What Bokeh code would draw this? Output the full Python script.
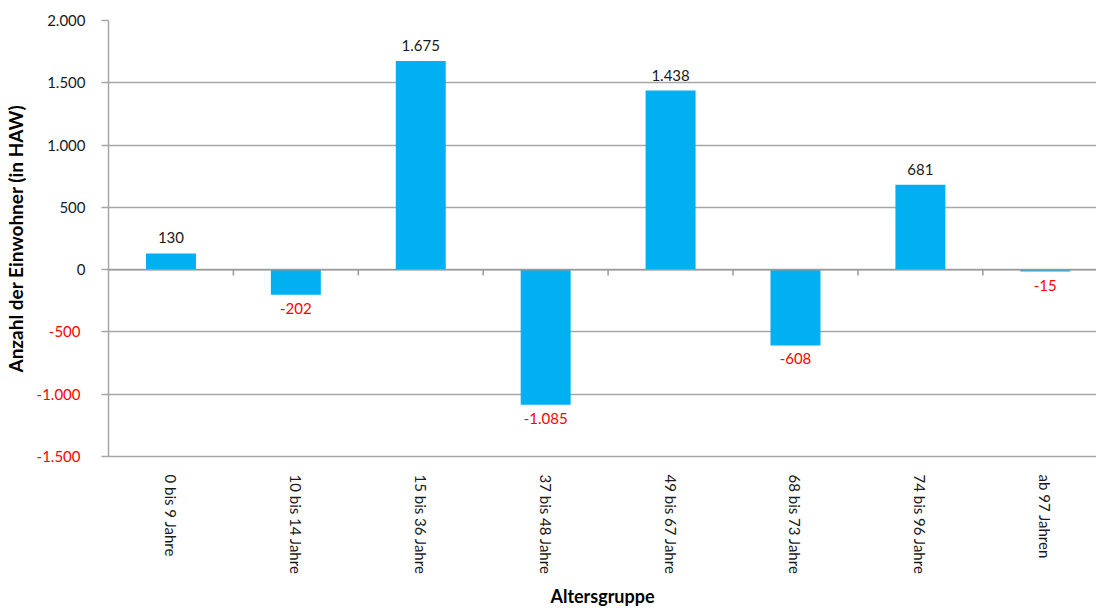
import math
from bokeh.plotting import figure
from bokeh.models import (ColumnDataSource, FixedTicker, LabelSet, Span, Range1d, LinearAxis)
from bokeh.core.properties import value
from bokeh.embed import file_html
from bokeh.resources import INLINE

categories = ["0 bis 9 Jahre", "10 bis 14 Jahre", "15 bis 36 Jahre", "37 bis 48 Jahre",
              "49 bis 67 Jahre", "68 bis 73 Jahre", "74 bis 96 Jahre", "ab 97 Jahren"]
values = [130, -202, 1675, -1085, 1438, -608, 681, -15]
y_ticks = [-1500, -1000, -500, 0, 500, 1000, 1500, 2000]

def fmt(v):
    s = f"{abs(v):,}".replace(",", ".")
    return ("-" if v < 0 else "") + s

FONT = "Lato"
GRID = "#A6A6A6"
BAR = "#00B0F0"

n = len(categories)
xs = [i + 0.5 for i in range(n)]

p = figure(width=1096, height=610, output_backend="svg", toolbar_location=None,
           x_range=Range1d(0, n - 0.09), y_range=Range1d(-1500, 2000),
           min_border_left=107, min_border_top=20, min_border_bottom=152, min_border_right=0)
p.outline_line_color = None
p.background_fill_color = "white"
p.border_fill_color = "white"

# bars
src = ColumnDataSource(dict(x=xs, top=values, label=[fmt(v) for v in values]))
p.vbar(x="x", top="top", bottom=0, width=0.4, source=src, fill_color=BAR, line_color=None)

# zero line and category boundary ticks
p.add_layout(Span(location=0, dimension="width", line_color="#999999", line_width=1.5, level="overlay"))
bx = list(range(1, n))
p.segment(x0=bx, x1=bx, y0=[0] * len(bx), y1=[-48] * len(bx), line_color="#999999", line_width=1.5)

# value labels
pos = ColumnDataSource(dict(x=[x for x, v in zip(xs, values) if v >= 0],
                            y=[v for v in values if v >= 0],
                            t=[fmt(v) for v in values if v >= 0]))
neg = ColumnDataSource(dict(x=[x for x, v in zip(xs, values) if v < 0],
                            y=[v for v in values if v < 0],
                            t=[fmt(v) for v in values if v < 0]))
p.add_layout(LabelSet(x="x", y="y", text="t", source=pos, text_align="center", text_baseline="bottom",
                      y_offset=10, text_font=value(FONT), text_font_size="15px", text_color="#1a1a1a"))
p.add_layout(LabelSet(x="x", y="y", text="t", source=neg, text_align="center", text_baseline="top",
                      y_offset=-8, text_font=value(FONT), text_font_size="15px", text_color="#FF0000"))

# inner y axis: non-negative tick labels (dark)
p.yaxis.ticker = FixedTicker(ticks=y_ticks)
p.yaxis.major_label_overrides = {t: (fmt(t) if t >= 0 else "") for t in y_ticks}
p.yaxis.axis_line_color = GRID
p.yaxis.axis_line_width = 1.5
p.yaxis.major_tick_line_color = GRID
p.yaxis.major_tick_line_width = 1.5
p.yaxis.major_tick_out = 7
p.yaxis.major_tick_in = 0
p.yaxis.minor_tick_line_color = None
p.yaxis.major_label_standoff = 16
p.yaxis.major_label_text_font = FONT
p.yaxis.major_label_text_font_size = "15px"
p.yaxis.major_label_text_color = "#1a1a1a"

# outer y axis: negative tick labels (red) + title
ax2 = LinearAxis(ticker=FixedTicker(ticks=y_ticks),
                 major_label_overrides={t: (fmt(t) if t < 0 else "") for t in y_ticks})
ax2.axis_line_color = None
ax2.major_tick_line_color = None
ax2.minor_tick_line_color = None
ax2.major_tick_out = 0
ax2.major_tick_in = 0
ax2.major_label_standoff = -36
ax2.major_label_text_font = FONT
ax2.major_label_text_font_size = "15px"
ax2.major_label_text_color = "#FF0000"
ax2.axis_label = "Anzahl der Einwohner (in HAW)"
ax2.axis_label_text_font = FONT
ax2.axis_label_text_font_size = "19px"
ax2.axis_label_text_font_style = "bold"
ax2.axis_label_text_color = "#000000"
ax2.axis_label_standoff = 7
p.add_layout(ax2, "left")

# x axis
p.xaxis.ticker = FixedTicker(ticks=xs)
p.xaxis.major_label_overrides = {x: c for x, c in zip(xs, categories)}
p.xaxis.major_label_orientation = -math.pi / 2
p.xaxis.axis_line_color = GRID
p.xaxis.axis_line_width = 1.5
p.xaxis.major_tick_line_color = None
p.xaxis.minor_tick_line_color = None
p.xaxis.major_label_standoff = 12
p.xaxis.major_label_text_font = FONT
p.xaxis.major_label_text_font_size = "15px"
p.xaxis.major_label_text_color = "#1a1a1a"
p.xaxis.axis_label = "Altersgruppe"
p.xaxis.axis_label_text_font = FONT
p.xaxis.axis_label_text_font_size = "18px"
p.xaxis.axis_label_text_font_style = "bold"
p.xaxis.axis_label_text_color = "#000000"
p.xaxis.axis_label_standoff = 8

p.xgrid.grid_line_color = None
p.ygrid.ticker = FixedTicker(ticks=y_ticks)
p.ygrid.grid_line_color = GRID
p.ygrid.grid_line_width = 1.5

open("out.html", "w").write(file_html(p, INLINE))
